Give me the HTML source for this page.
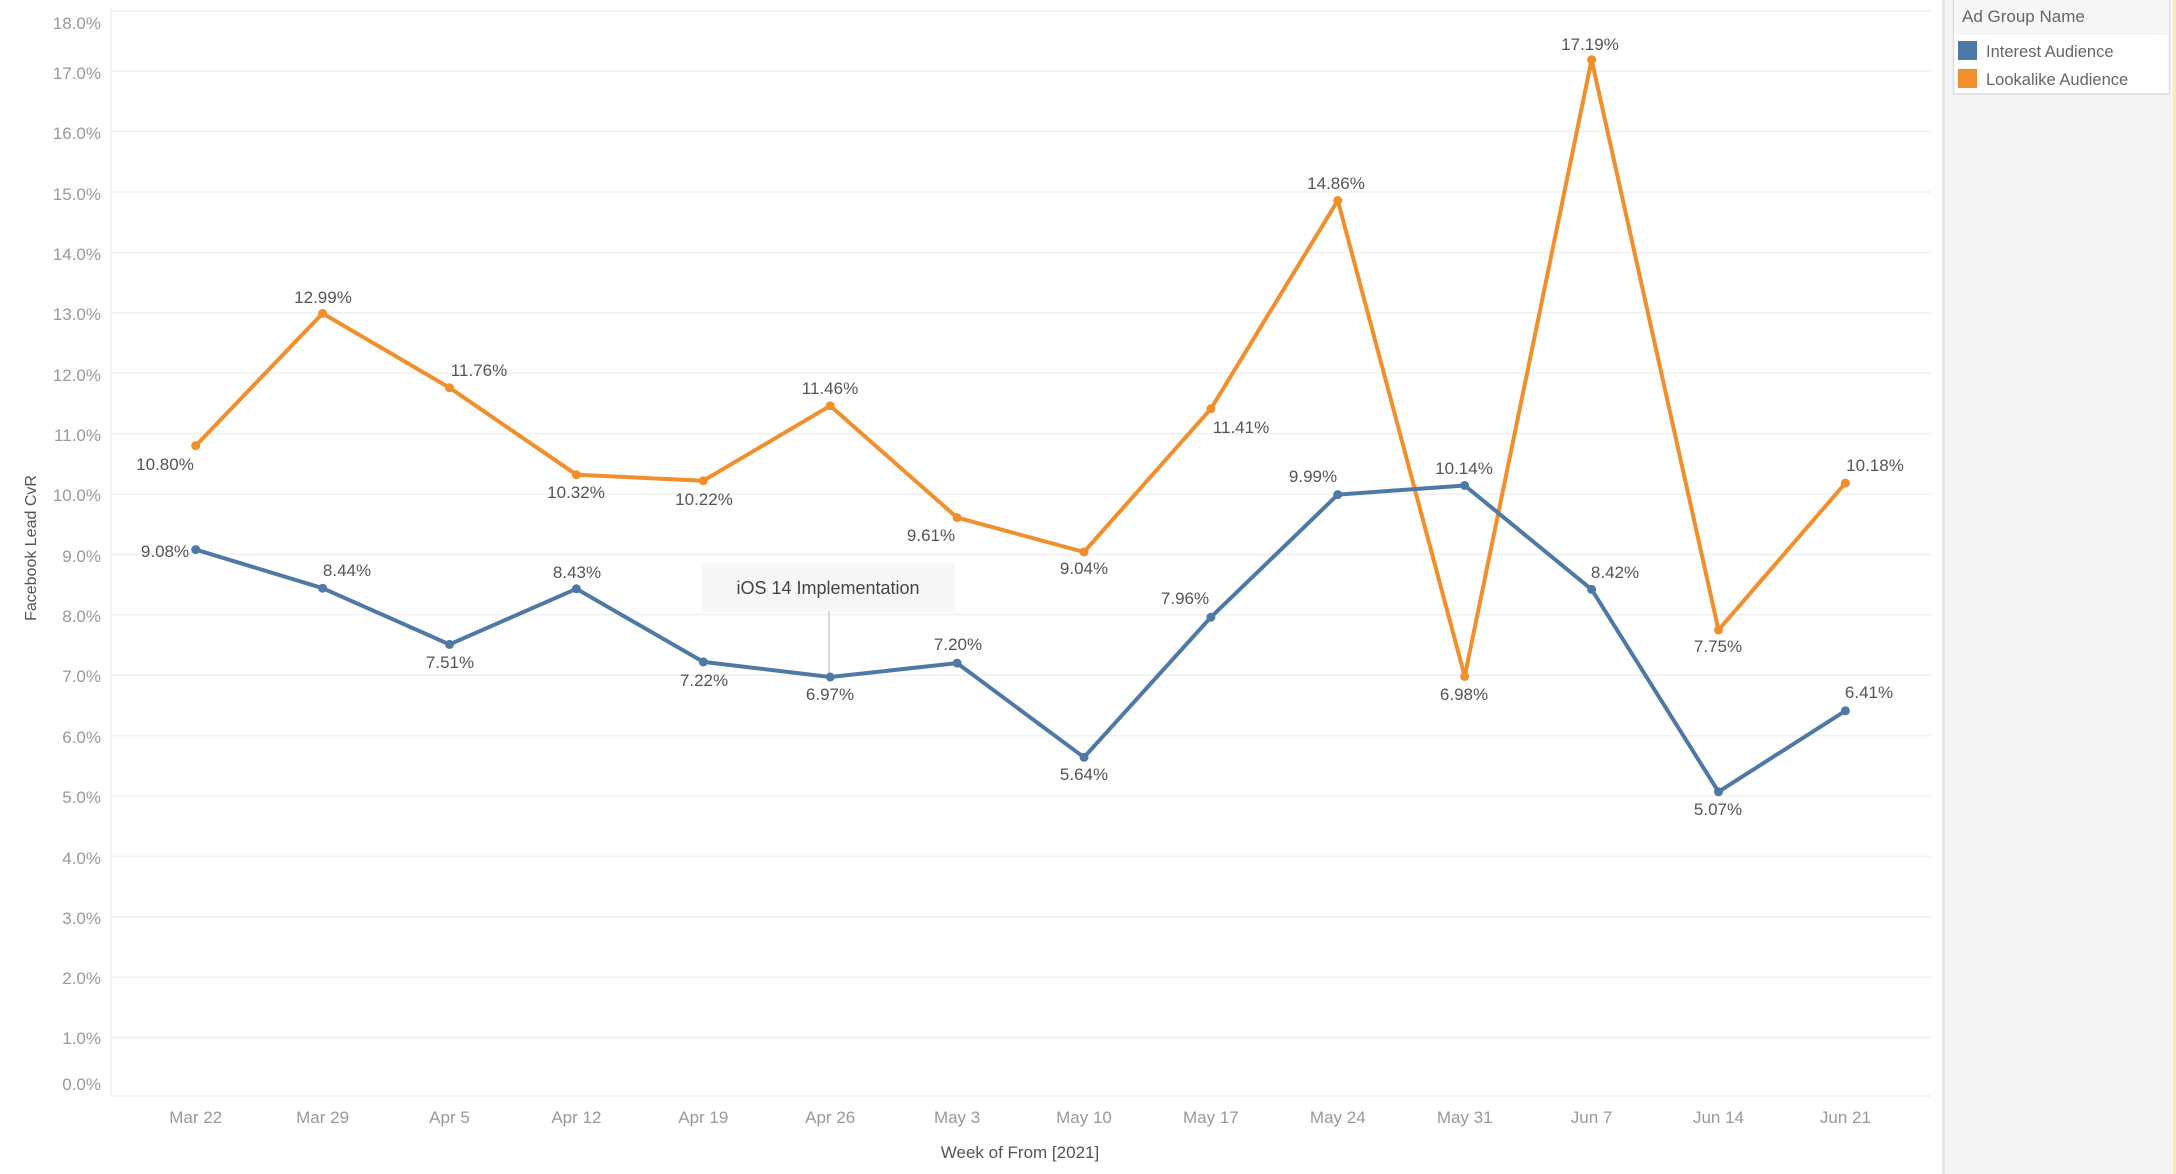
<!DOCTYPE html>
<html><head><meta charset="utf-8"><style>
html,body{margin:0;padding:0;background:#fff;}
svg{display:block;font-family:"Liberation Sans",sans-serif;}
</style></head><body>
<svg width="2176" height="1174" viewBox="0 0 2176 1174" xmlns="http://www.w3.org/2000/svg">
<rect x="0" y="0" width="2176" height="1174" fill="#fff"/>
<!-- right panel -->
<rect x="1942" y="0" width="234" height="1174" fill="#f4f4f4"/>
<rect x="1942" y="0" width="3" height="1174" fill="#e6e6e6"/>
<rect x="2173" y="0" width="3" height="1174" fill="#fde9b0"/>
<rect x="1953.5" y="-1" width="216" height="95" fill="#fff" stroke="#dcdcdc" stroke-width="1.5"/>
<rect x="1954" y="0" width="215" height="35" fill="#f6f6f6"/>
<text x="1962" y="22" font-size="17" fill="#666">Ad Group Name</text>
<rect x="1958" y="41" width="19" height="19" fill="#4e79a7"/>
<text x="1986" y="57" font-size="16.5" fill="#666">Interest Audience</text>
<rect x="1958" y="69" width="19" height="19" fill="#f28e2b"/>
<text x="1986" y="85" font-size="16.5" fill="#666">Lookalike Audience</text>

<!-- grid -->
<g stroke="#f0f0f0" stroke-width="1.5">
<line x1="111" y1="10.8" x2="1931" y2="10.8"/>
<line x1="111" y1="71.2" x2="1931" y2="71.2"/>
<line x1="111" y1="131.6" x2="1931" y2="131.6"/>
<line x1="111" y1="192" x2="1931" y2="192"/>
<line x1="111" y1="252.4" x2="1931" y2="252.4"/>
<line x1="111" y1="312.8" x2="1931" y2="312.8"/>
<line x1="111" y1="373.2" x2="1931" y2="373.2"/>
<line x1="111" y1="433.6" x2="1931" y2="433.6"/>
<line x1="111" y1="494" x2="1931" y2="494"/>
<line x1="111" y1="554.4" x2="1931" y2="554.4"/>
<line x1="111" y1="614.8" x2="1931" y2="614.8"/>
<line x1="111" y1="675.2" x2="1931" y2="675.2"/>
<line x1="111" y1="735.6" x2="1931" y2="735.6"/>
<line x1="111" y1="796" x2="1931" y2="796"/>
<line x1="111" y1="856.4" x2="1931" y2="856.4"/>
<line x1="111" y1="916.8" x2="1931" y2="916.8"/>
<line x1="111" y1="977.2" x2="1931" y2="977.2"/>
<line x1="111" y1="1037.6" x2="1931" y2="1037.6"/>
<line x1="111" y1="1096" x2="1931" y2="1096"/>
<line x1="111" y1="8" x2="111" y2="1096"/>
</g>
<!-- y ticks -->
<g font-size="17" fill="#999" text-anchor="end">
<text x="101" y="29">18.0%</text>
<text x="101" y="79">17.0%</text>
<text x="101" y="139">16.0%</text>
<text x="101" y="200">15.0%</text>
<text x="101" y="260">14.0%</text>
<text x="101" y="320">13.0%</text>
<text x="101" y="381">12.0%</text>
<text x="101" y="441">11.0%</text>
<text x="101" y="501">10.0%</text>
<text x="101" y="562">9.0%</text>
<text x="101" y="622">8.0%</text>
<text x="101" y="682">7.0%</text>
<text x="101" y="743">6.0%</text>
<text x="101" y="803">5.0%</text>
<text x="101" y="864">4.0%</text>
<text x="101" y="924">3.0%</text>
<text x="101" y="984">2.0%</text>
<text x="101" y="1044">1.0%</text>
<text x="101" y="1090">0.0%</text>
</g>
<text transform="translate(36,548) rotate(-90)" font-size="16" fill="#555" text-anchor="middle">Facebook Lead CvR</text>
<!-- x ticks -->
<g font-size="17" fill="#999" text-anchor="middle">
<text x="195.7" y="1123">Mar 22</text>
<text x="322.6" y="1123">Mar 29</text>
<text x="449.5" y="1123">Apr 5</text>
<text x="576.4" y="1123">Apr 12</text>
<text x="703.3" y="1123">Apr 19</text>
<text x="830.2" y="1123">Apr 26</text>
<text x="957.1" y="1123">May 3</text>
<text x="1084" y="1123">May 10</text>
<text x="1210.9" y="1123">May 17</text>
<text x="1337.8" y="1123">May 24</text>
<text x="1464.7" y="1123">May 31</text>
<text x="1591.6" y="1123">Jun 7</text>
<text x="1718.5" y="1123">Jun 14</text>
<text x="1845.4" y="1123">Jun 21</text>
</g>
<text x="1020" y="1158" font-size="17" fill="#555" text-anchor="middle">Week of From [2021]</text>

<!-- annotation -->
<rect x="702" y="563" width="253" height="48" fill="#f7f7f7"/>
<line x1="829" y1="611" x2="829" y2="676" stroke="#ccc" stroke-width="1.5"/>
<text x="828" y="594" font-size="18" fill="#444" text-anchor="middle">iOS 14 Implementation</text>

<!-- series -->
<polyline fill="none" stroke="#f28e2b" stroke-width="4" stroke-linejoin="round" points="195.7,445.7 322.6,313.4 449.5,387.7 576.4,474.7 703.3,480.7 830.2,405.8 957.1,517.6 1084,552 1210.9,408.8 1337.8,200.5 1464.7,676.4 1591.6,59.7 1718.5,629.9 1845.4,483.1"/>
<g fill="#f28e2b">
<circle cx="195.7" cy="445.7" r="4.5"/><circle cx="322.6" cy="313.4" r="4.5"/><circle cx="449.5" cy="387.7" r="4.5"/><circle cx="576.4" cy="474.7" r="4.5"/><circle cx="703.3" cy="480.7" r="4.5"/><circle cx="830.2" cy="405.8" r="4.5"/><circle cx="957.1" cy="517.6" r="4.5"/><circle cx="1084" cy="552" r="4.5"/><circle cx="1210.9" cy="408.8" r="4.5"/><circle cx="1337.8" cy="200.5" r="4.5"/><circle cx="1464.7" cy="676.4" r="4.5"/><circle cx="1591.6" cy="59.7" r="4.5"/><circle cx="1718.5" cy="629.9" r="4.5"/><circle cx="1845.4" cy="483.1" r="4.5"/>
</g>
<polyline fill="none" stroke="#4e79a7" stroke-width="4" stroke-linejoin="round" points="195.7,549.6 322.6,588.2 449.5,644.4 576.4,588.8 703.3,661.9 830.2,677 957.1,663.1 1084,757.3 1210.9,617.2 1337.8,494.6 1464.7,485.5 1591.6,589.4 1718.5,791.8 1845.4,710.8"/>
<g fill="#4e79a7">
<circle cx="195.7" cy="549.6" r="4.5"/><circle cx="322.6" cy="588.2" r="4.5"/><circle cx="449.5" cy="644.4" r="4.5"/><circle cx="576.4" cy="588.8" r="4.5"/><circle cx="703.3" cy="661.9" r="4.5"/><circle cx="830.2" cy="677" r="4.5"/><circle cx="957.1" cy="663.1" r="4.5"/><circle cx="1084" cy="757.3" r="4.5"/><circle cx="1210.9" cy="617.2" r="4.5"/><circle cx="1337.8" cy="494.6" r="4.5"/><circle cx="1464.7" cy="485.5" r="4.5"/><circle cx="1591.6" cy="589.4" r="4.5"/><circle cx="1718.5" cy="791.8" r="4.5"/><circle cx="1845.4" cy="710.8" r="4.5"/>
</g>

<!-- labels -->
<g font-size="17" fill="#555" text-anchor="middle">
<text x="165" y="557">9.08%</text>
<text x="347" y="576">8.44%</text>
<text x="450" y="668">7.51%</text>
<text x="577" y="578">8.43%</text>
<text x="704" y="686">7.22%</text>
<text x="830" y="700">6.97%</text>
<text x="958" y="650">7.20%</text>
<text x="1084" y="780">5.64%</text>
<text x="1185" y="604">7.96%</text>
<text x="1313" y="482">9.99%</text>
<text x="1464" y="474">10.14%</text>
<text x="1615" y="578">8.42%</text>
<text x="1718" y="815">5.07%</text>
<text x="1869" y="698">6.41%</text>

<text x="165" y="470">10.80%</text>
<text x="323" y="303">12.99%</text>
<text x="479" y="376">11.76%</text>
<text x="576" y="498">10.32%</text>
<text x="704" y="505">10.22%</text>
<text x="830" y="394">11.46%</text>
<text x="931" y="541">9.61%</text>
<text x="1084" y="574">9.04%</text>
<text x="1241" y="433">11.41%</text>
<text x="1336" y="189">14.86%</text>
<text x="1464" y="700">6.98%</text>
<text x="1590" y="50">17.19%</text>
<text x="1718" y="652">7.75%</text>
<text x="1875" y="471">10.18%</text>
</g>
</svg>
</body></html>
